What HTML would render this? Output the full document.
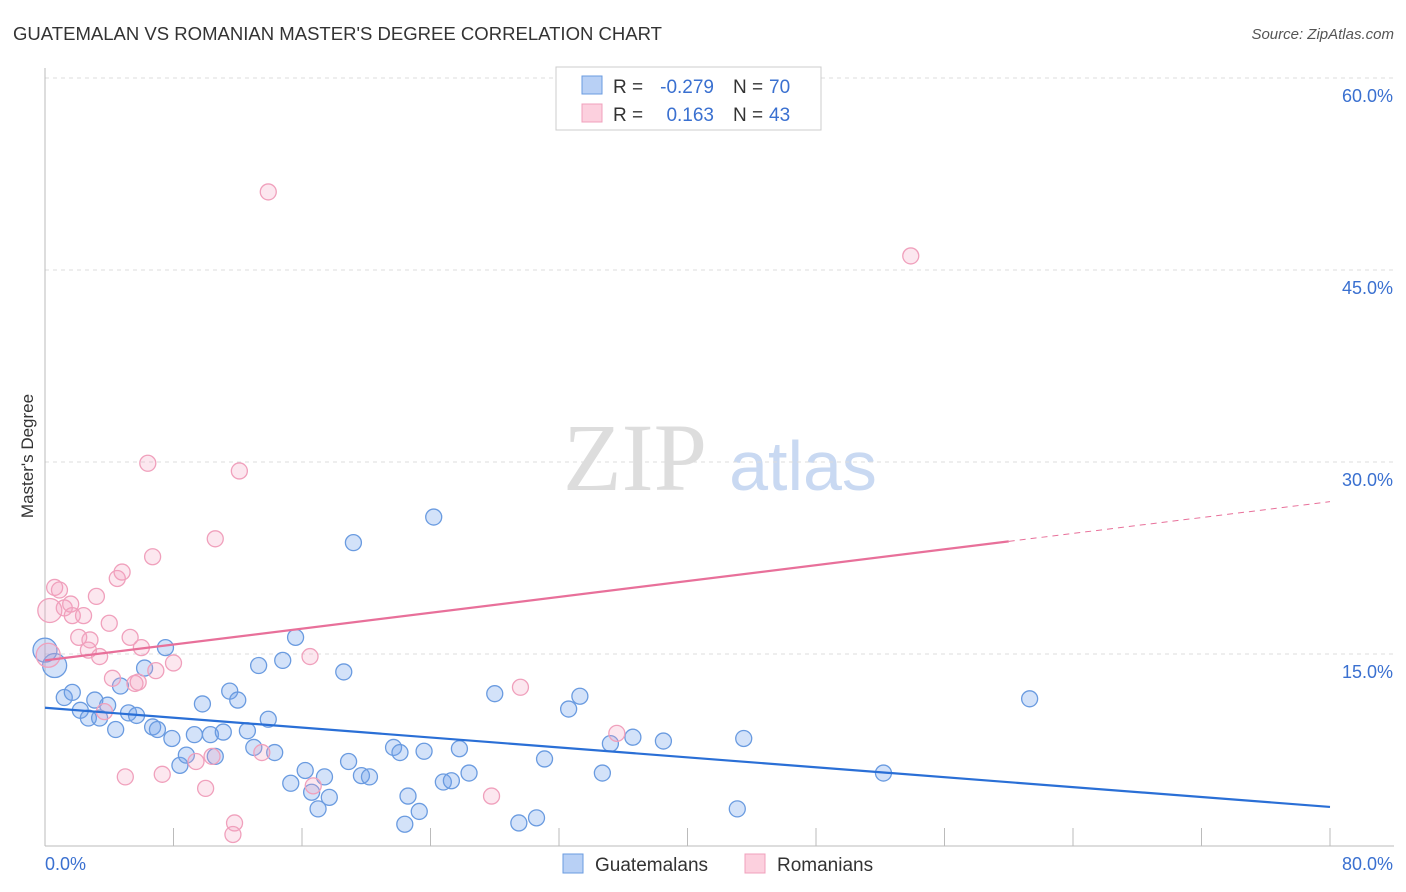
<!DOCTYPE html>
<html><head><meta charset="utf-8"><style>
body{margin:0;background:#fff;font-family:"Liberation Sans",sans-serif}
svg{display:block}
</style></head><body>
<svg id="chart" width="1406" height="892" xmlns="http://www.w3.org/2000/svg" font-family="Liberation Sans, sans-serif">
<text x="13" y="40" font-size="18" fill="#333" textLength="649" lengthAdjust="spacingAndGlyphs">GUATEMALAN VS ROMANIAN MASTER'S DEGREE CORRELATION CHART</text>
<text x="1394" y="39" font-size="15" fill="#555" font-style="italic" text-anchor="end">Source: ZipAtlas.com</text>
<text transform="translate(33,456) rotate(-90)" font-size="17" fill="#333" text-anchor="middle">Master's Degree</text>
<g>
<text x="635" y="490" font-size="96" font-family="Liberation Serif, serif" fill="#ddd" text-anchor="middle">ZIP</text>
<text x="803" y="490" font-size="70" fill="#c9d9f2" text-anchor="middle">atlas</text>
</g>
<g id="grid"></g><g id="axes"></g><g id="marks"></g>
<g font-size="19">
<rect x="556" y="67" width="265" height="63" fill="#fff" stroke="#ccc"/>
<rect x="582" y="76" width="20" height="18" fill="#b8d0f5" stroke="#6a9be0"/>
<rect x="582" y="104" width="20" height="18" fill="#fcd0de" stroke="#f0a0bc"/>
<text x="613" y="93" fill="#333">R =</text>
<text x="714" y="93" fill="#3a70d0" text-anchor="end">-0.279</text>
<text x="733" y="93" fill="#333">N =</text>
<text x="769" y="93" fill="#3a70d0">70</text>
<text x="613" y="121" fill="#333">R =</text>
<text x="714" y="121" fill="#3a70d0" text-anchor="end">0.163</text>
<text x="733" y="121" fill="#333">N =</text>
<text x="769" y="121" fill="#3a70d0">43</text>
</g>
<g>
<rect x="563" y="854" width="20" height="19" fill="#b8d0f5" stroke="#6a9be0"/>
<text x="595" y="871" font-size="19" fill="#333">Guatemalans</text>
<rect x="745" y="854" width="20" height="19" fill="#fcd0de" stroke="#f0a0bc"/>
<text x="777" y="871" font-size="19" fill="#333">Romanians</text>
</g>
</svg>
<script>
const yTicks=[15,30,45,60];
const yTickLabels=["15.0%","30.0%","45.0%","60.0%"];
const xTickVals=[0,8,16,24,32,40,48,56,64,72,80];
const blueX=[0.0,0.6,1.2,1.7,2.2,2.7,3.1,3.4,3.9,4.4,4.7,5.2,5.7,6.2,6.7,7.0,7.5,7.9,8.4,8.8,9.3,9.8,10.3,10.6,11.1,11.5,12.0,12.6,13.0,13.3,13.9,14.3,14.8,15.3,15.6,16.2,16.6,17.0,17.4,17.7,18.6,18.9,19.2,19.7,20.2,21.7,22.1,22.4,22.6,23.3,23.6,24.2,24.8,25.3,25.8,26.4,28.0,29.5,30.6,31.1,32.6,33.3,34.7,35.2,36.6,38.5,43.1,43.5,52.2,61.3];
const blueY=[15.3,14.1,11.6,12.0,10.6,10.0,11.4,10.0,11.0,9.1,12.5,10.4,10.2,13.9,9.3,9.1,15.5,8.4,6.3,7.1,8.7,11.1,8.7,7.0,8.9,12.1,11.4,9.0,7.7,14.1,9.9,7.3,14.5,4.9,16.3,5.9,4.2,2.9,5.4,3.8,13.6,6.6,23.7,5.5,5.4,7.7,7.3,1.7,3.9,2.7,7.4,25.7,5.0,5.1,7.6,5.7,11.9,1.8,2.2,6.8,10.7,11.7,5.7,8.0,8.5,8.2,2.9,8.4,5.7,11.5];
const pinkX=[0.3,0.2,0.6,0.9,1.2,1.6,1.7,2.1,2.4,2.7,2.8,3.2,3.4,3.7,4.0,4.2,4.5,4.8,5.0,5.3,5.6,5.8,6.0,6.4,6.7,6.9,7.3,8.0,9.4,10.0,10.4,10.6,11.8,11.7,12.1,13.5,13.9,16.5,16.7,27.8,29.6,35.6,53.9];
const pinkY=[18.4,14.9,20.2,20.0,18.6,18.9,18.0,16.3,18.0,15.3,16.1,19.5,14.8,10.5,17.4,13.1,20.9,21.4,5.4,16.3,12.7,12.8,15.5,29.9,22.6,13.7,5.6,14.3,6.6,4.5,7.0,24.0,1.8,0.9,29.3,7.3,51.1,14.8,4.7,3.9,12.4,8.8,46.1];
const blueLine=[10.8,3.05];
const pinkLine=[14.5,26.9];
const pinkSolidEnd=60;
const X=v=>45+v/80*1285, Y=v=>846-v*12.8;
const NS="http://www.w3.org/2000/svg";
function mk(t,a,p){const e=document.createElementNS(NS,t);for(const k in a)e.setAttribute(k,a[k]);p.appendChild(e);return e;}
const grid=document.getElementById('grid'),axes=document.getElementById('axes'),marks=document.getElementById('marks');
yTicks.forEach((v,i)=>{
 const l=mk('line',{x1:45,x2:1394,y1:Y(v),y2:Y(v),stroke:'#ddd','stroke-dasharray':'4,4'},grid);
 
 
 const t=mk('text',{x:1393,y:Y(v)+24,'font-size':18,fill:'#3a70d0','text-anchor':'end'},axes);
 t.textContent=yTickLabels[i];
 
 
});
const ax=mk('line',{x1:45,x2:1394,y1:846,y2:846,stroke:'#bbb'},axes);


const ay=mk('line',{x1:45,x2:45,y1:68,y2:846,stroke:'#bbb'},axes);


xTickVals.forEach(v=>{const l=mk('line',{x1:X(v),x2:X(v),y1:828,y2:846,stroke:'#bbb'},axes);
 
 });
const t0=mk('text',{x:45,y:870,'font-size':18,fill:'#3a70d0'},axes);t0.textContent='0.0%';


const t1=mk('text',{x:1393,y:870,'font-size':18,fill:'#3a70d0','text-anchor':'end'},axes);t1.textContent='80.0%';


blueX.forEach((x,i)=>{const c=mk('circle',{cx:X(x),cy:Y(blueY[i]),r:i<2?12:8,fill:'rgba(110,160,235,0.3)',stroke:'#6a9be0','stroke-width':1.3},marks);
 
 });
pinkX.forEach((x,i)=>{const c=mk('circle',{cx:X(x),cy:Y(pinkY[i]),r:i<2?12:8,fill:'rgba(245,160,190,0.25)',stroke:'#f0a0bc','stroke-width':1.3},marks);
 
 });
const bl=mk('line',{x1:X(0),y1:Y(blueLine[0]),x2:X(80),y2:Y(blueLine[1]),stroke:'#2a6fd6','stroke-width':2.2},marks);


const pe=pinkLine[0]+(pinkLine[1]-pinkLine[0])*pinkSolidEnd/80;
const pl=mk('line',{x1:X(0),y1:Y(pinkLine[0]),x2:X(pinkSolidEnd),y2:Y(pe),stroke:'#e8709a','stroke-width':2.2},marks);


const pd=mk('line',{x1:X(pinkSolidEnd),y1:Y(pe),x2:X(80),y2:Y(pinkLine[1]),stroke:'#e8709a','stroke-width':1,'stroke-dasharray':'6,5'},marks);


</script>
</body></html>
